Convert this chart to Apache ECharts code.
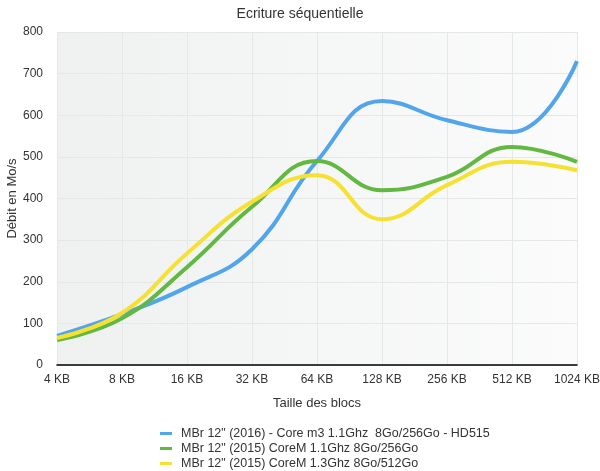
<!DOCTYPE html>
<html><head><meta charset="utf-8">
<script src="https://cdn.jsdelivr.net/npm/echarts@6/dist/echarts.min.js"></script>
<style>html,body{margin:0;padding:0;background:#fff}#c{width:600px;height:471px}</style>
</head><body><div id="c"></div>
<script>
const categories = ['4 KB','8 KB','16 KB','32 KB','64 KB','128 KB','256 KB','512 KB','1024 KB'];
const seriesNames = [
  'MBr 12" (2016) - Core m3 1.1Ghz  8Go/256Go - HD515',
  'MBr 12" (2015) CoreM 1.1Ghz 8Go/256Go',
  'MBr 12" (2015) CoreM 1.3Ghz 8Go/512Go'
];
const blue = [70, 122, 187, 278, 490, 634, 588, 560, 730];
const green = [60, 112, 235, 380, 490, 420, 452, 524, 488];
const yellow = [65, 125, 268, 392, 456, 350, 432, 488, 468];
const yTicks = [0, 100, 800];

const chart = echarts.init(document.getElementById('c'));
const font = 'Liberation Sans, Helvetica, Arial, sans-serif';
const mk = (name, data, color) => ({
  name, type: 'line', data, smooth: 0.45, symbol: 'none',
  lineStyle: {width: 4, color}, itemStyle: {color}
});
chart.setOption({
  animation: false,
  textStyle: {fontFamily: font},
  title: {text: 'Ecriture séquentielle', left: 'center', top: 2,
    textStyle: {fontSize: 14, fontWeight: 'normal', color: '#333', fontFamily: font}},
  grid: {left: 57, right: 23, top: 32, bottom: 106, show: true, borderWidth: 0,
    outerBoundsMode: 'none', containLabel: false,
    backgroundColor: new echarts.graphic.LinearGradient(0, 0, 1, 0, [
      {offset: 0, color: '#eff1f1'}, {offset: 1, color: '#fbfbfb'}])},
  legend: {orient: 'vertical', left: 160, top: 427, height: 80, width: 420,
    itemGap: 2, icon: 'rect', padding: 0,
    itemWidth: 12, itemHeight: 3,
    textStyle: {fontSize: 12.5, color: '#333', fontFamily: font, padding: [0, 0, 0, 4]},
    data: seriesNames},
  xAxis: {type: 'category', data: categories, boundaryGap: false,
    name: 'Taille des blocs', nameLocation: 'middle', nameGap: 32, nameMoveOverlap: false,
    nameTextStyle: {fontSize: 13, color: '#333'},
    axisLine: {lineStyle: {color: '#000', width: 1.5}},
    axisTick: {show: false},
    axisLabel: {fontSize: 12, color: '#333', margin: 9},
    splitLine: {show: true, lineStyle: {color: '#e6e8e8'}}},
  yAxis: {type: 'value', min: yTicks[0], max: yTicks[2], interval: yTicks[1],
    name: 'Débit en Mo/s', nameLocation: 'middle', nameGap: 38, nameMoveOverlap: false,
    nameTextStyle: {fontSize: 13, color: '#333'},
    axisLine: {show: false}, axisTick: {show: false},
    axisLabel: {fontSize: 12, color: '#333', margin: 14},
    splitLine: {lineStyle: {color: '#e6e8e8'}}},
  series: [
    mk(seriesNames[0], blue, '#52a5ea'),
    mk(seriesNames[1], green, '#63b842'),
    mk(seriesNames[2], yellow, '#f6e133')
  ]
});
</script></body></html>
